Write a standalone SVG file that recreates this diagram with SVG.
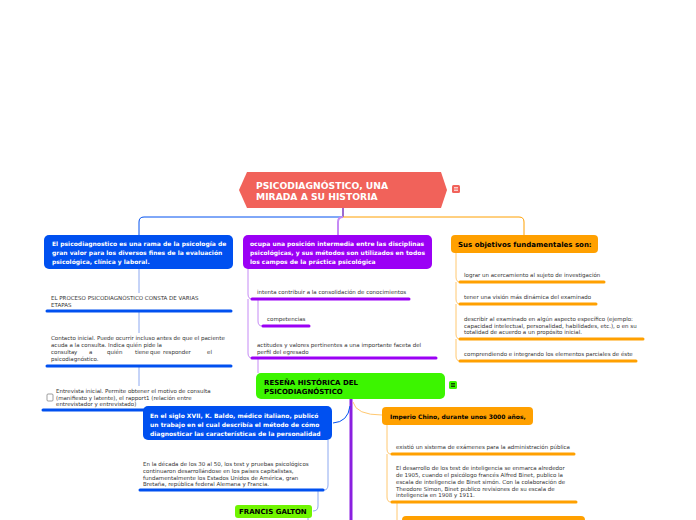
<svg xmlns="http://www.w3.org/2000/svg" width="696" height="520" viewBox="0 0 696 520">
<style>
.t{font-family:"DejaVu Sans",Verdana,sans-serif;font-size:5.5px;fill:#333}
.w{font-family:"DejaVu Sans",Verdana,sans-serif;font-size:6px;font-weight:bold;fill:#fff}
.b{font-family:"DejaVu Sans",Verdana,sans-serif;font-size:6px;font-weight:bold;fill:#000}
.bl{font-size:7px}
.ttl{font-family:"DejaVu Sans",Verdana,sans-serif;font-size:9.2px;font-weight:bold;fill:#fff}
.ub{stroke:#0050F0;stroke-width:3;stroke-linecap:round}
.up{stroke:#9B00F5;stroke-width:3;stroke-linecap:round}
.uo{stroke:#FFA000;stroke-width:3;stroke-linecap:round}
</style>
<rect width="696" height="520" fill="#fff"/>
<g id="connectors" fill="none">
  <path d="M343 208V217" stroke="#9B6BD0" stroke-width="2"/>
  <path d="M343 217H144Q139 217 139 222V235" stroke="#0050F0"/>
  <path d="M343 217H519Q524 217 524 222V235" stroke="#FFA000"/>
  <path d="M343 217Q338 217 338 222V235" stroke="#C58AF5" stroke-width="2"/>
  <path d="M139 269V293M139 311V333M139 366V386" stroke="#8CA8F0"/>
  <path d="M248 269V294Q248 299 252 299M248 299V353Q248 358 252 358" stroke="#C58AF5"/>
  <path d="M258 299V321Q258 326 262 326" stroke="#C58AF5"/>
  <path d="M258 358V373" stroke="#C58AF5"/>
  <path d="M456 253V277Q456 282 460 282M456 282V299Q456 304 460 304M456 304V334Q456 339 460 339M456 339V356Q456 361 460 361" stroke="#FFC870"/>
  <path d="M351 399V520" stroke="#8A1FE0" stroke-width="3"/>
  <path d="M350 406Q348 422 333 423" stroke="#0050F0"/>
  <path d="M353 402Q356 415 382 415" stroke="#FFC870"/>
  <path d="M328 440V485Q328 490 324 490" stroke="#8CA8F0"/>
  <path d="M318 490V506Q318 511 313 511" stroke="#8CA8F0"/>
  <path d="M308 518V520" stroke="#8CA8F0"/>
  <path d="M387 425V449Q387 454 391 454M387 454V497Q387 502 391 502" stroke="#FFC870"/>
  <path d="M397 502V520" stroke="#FFC870"/>
</g>
<g id="root">
  <path d="M247 172H441L447 190L441 208H247L239 190Z" fill="#F1625A"/>
  <text class="ttl" x="256" y="189">PSICODIAGNÓSTICO, UNA</text>
  <text class="ttl" x="256" y="200">MIRADA A SU HISTORIA</text>
  <rect x="452" y="185" width="8" height="8" rx="1.5" fill="#F1625A"/>
  <path d="M454 187.5H458M454 189H458M454 190.5H458" stroke="#fff" stroke-width="0.7"/>
</g>
<g id="n-blue1">
  <rect x="44" y="235" width="189" height="34" rx="5" fill="#0050F0"/>
  <text class="w" x="52" y="246">El psicodiagnostico es una rama de la psicología de</text>
  <text class="w" x="52" y="255">gran valor para los diversos fines de la evaluación</text>
  <text class="w" x="52" y="264">psicológica, clínica y laboral.</text>
</g>
<g id="i-proceso">
  <text class="t" x="51" y="300">EL PROCESO PSICODIAGNÓSTICO CONSTA DE VARIAS</text>
  <text class="t" x="51" y="307">ETAPAS</text>
  <path class="ub" d="M47 311H231"/>
</g>
<g id="i-contacto">
  <text class="t" x="51" y="340">Contacto inicial. Puede ocurrir incluso antes de que el paciente</text>
  <text class="t" x="51" y="347">acuda a la consulta. Indica quién pide la</text>
  <text class="t" y="354"><tspan x="51">consulta</tspan><tspan x="74">y</tspan><tspan x="89">a</tspan><tspan x="107">quién</tspan><tspan x="135">tiene</tspan><tspan x="150">que</tspan><tspan x="163">responder</tspan><tspan x="207">el</tspan></text>
  <text class="t" x="51" y="361">psicodiagnóstico.</text>
  <path class="ub" d="M47 366H231"/>
</g>
<g id="i-entrevista">
  <rect x="47" y="394" width="6" height="7" rx="1" fill="#fff" stroke="#777" stroke-width="0.7"/>
  <text class="t" x="56" y="393">Entrevista inicial. Permite obtener el motivo de consulta</text>
  <text class="t" x="56" y="400">(manifiesto y latente), el rapport1 (relación entre</text>
  <text class="t" x="56" y="406">entrevistador y entrevistado)</text>
  <path class="ub" d="M43 410H150"/>
</g>
<g id="n-purple">
  <rect x="243" y="235" width="189" height="34" rx="5" fill="#9B00F5"/>
  <text class="w" x="250" y="246">ocupa una posición intermedia entre las disciplinas</text>
  <text class="w" x="250" y="255">psicológicas, y sus métodos son utilizados en todos</text>
  <text class="w" x="250" y="264">los campos de la práctica psicológica</text>
</g>
<g id="i-intenta">
  <text class="t" x="257" y="294">intenta contribuir a la consolidación de conocimientos</text>
  <path class="up" d="M252 299H409"/>
</g>
<g id="i-competencias">
  <text class="t" x="267" y="321">competencias</text>
  <path class="up" d="M263 326H309"/>
</g>
<g id="i-actitudes">
  <text class="t" x="257" y="347">actitudes y valores pertinentes a una importante faceta del</text>
  <text class="t" x="257" y="354">perfil del egresado</text>
  <path class="up" d="M252 358H436"/>
</g>
<g id="n-orange">
  <rect x="451" y="235" width="147" height="18" rx="4" fill="#FFA000"/>
  <text class="b bl" x="458" y="247">Sus objetivos fundamentales son:</text>
</g>
<g id="i-lograr">
  <text class="t" x="464" y="277">lograr un acercamiento al sujeto de investigación</text>
  <path class="uo" d="M460 282H604"/>
</g>
<g id="i-tener">
  <text class="t" x="464" y="299">tener una visión más dinámica del examinado</text>
  <path class="uo" d="M460 304H596"/>
</g>
<g id="i-describir">
  <text class="t" x="464" y="321">describir al examinado en algún aspecto específico (ejemplo:</text>
  <text class="t" x="464" y="328">capacidad intelectual, personalidad, habilidades, etc.), o en su</text>
  <text class="t" x="464" y="334">totalidad de acuerdo a un propósito inicial.</text>
  <path class="uo" d="M460 339H643"/>
</g>
<g id="i-comprendiendo">
  <text class="t" x="464" y="356">comprendiendo e integrando los elementos parciales de éste</text>
  <path class="uo" d="M460 361H636"/>
</g>
<g id="n-resena">
  <rect x="256" y="373" width="189" height="26" rx="5" fill="#3CF500"/>
  <text class="b bl" x="264" y="385">RESEÑA HISTÓRICA DEL</text>
  <text class="b bl" x="264" y="394">PSICODIAGNÓSTICO</text>
  <rect x="449" y="381" width="8" height="8" rx="1.5" fill="#3CF500"/>
  <path d="M451 383.5H455M451 385H455M451 386.5H455" stroke="#000" stroke-width="0.7"/>
</g>
<g id="n-baldo">
  <rect x="143" y="406" width="189" height="34" rx="5" fill="#0050F0"/>
  <text class="w" x="150" y="418">En el siglo XVII, K. Baldo, médico italiano, publicó</text>
  <text class="w" x="150" y="427">un trabajo en el cual describía el método de cómo</text>
  <text class="w" x="150" y="436">diagnosticar las características de la personalidad</text>
</g>
<g id="i-decada">
  <text class="t" x="143" y="466">En la década de los 30 al 50, los test y pruebas psicológicos</text>
  <text class="t" x="143" y="473">continuaron desarrollándose en los países capitalistas,</text>
  <text class="t" x="143" y="480">fundamentalmente los Estados Unidos de América, gran</text>
  <text class="t" x="143" y="486">Bretaña, república federal Alemana y Francia.</text>
  <path class="ub" d="M140 490H323"/>
</g>
<g id="n-galton">
  <rect x="235" y="505" width="77" height="13" rx="3" fill="#70F500"/>
  <text class="b bl" x="239" y="514">FRANCIS GALTON</text>
</g>
<g id="n-chino">
  <rect x="382" y="407" width="151" height="18" rx="4" fill="#FFA000"/>
  <text class="b" x="390" y="419">Imperio Chino, durante unos 3000 años,</text>
</g>
<g id="i-existio">
  <text class="t" x="396" y="449">existió un sistema de exámenes para la administración pública</text>
  <path class="uo" d="M392 454H574"/>
</g>
<g id="i-desarrollo">
  <text class="t" x="396" y="470">El desarrollo de los test de inteligencia se enmarca alrededor</text>
  <text class="t" x="396" y="477">de 1905, cuando el psicólogo francés Alfred Binet, publico la</text>
  <text class="t" x="396" y="484">escala de inteligencia de Binet simón. Con la colaboración de</text>
  <text class="t" x="396" y="491">Theodore Simon, Binet publico revisiones de su escala de</text>
  <text class="t" x="396" y="497">inteligencia en 1908 y 1911.</text>
  <path class="uo" d="M392 502H576"/>
</g>
<g id="n-next">
  <rect x="402" y="516" width="183" height="10" rx="4" fill="#FFA000"/>
</g>
</svg>
